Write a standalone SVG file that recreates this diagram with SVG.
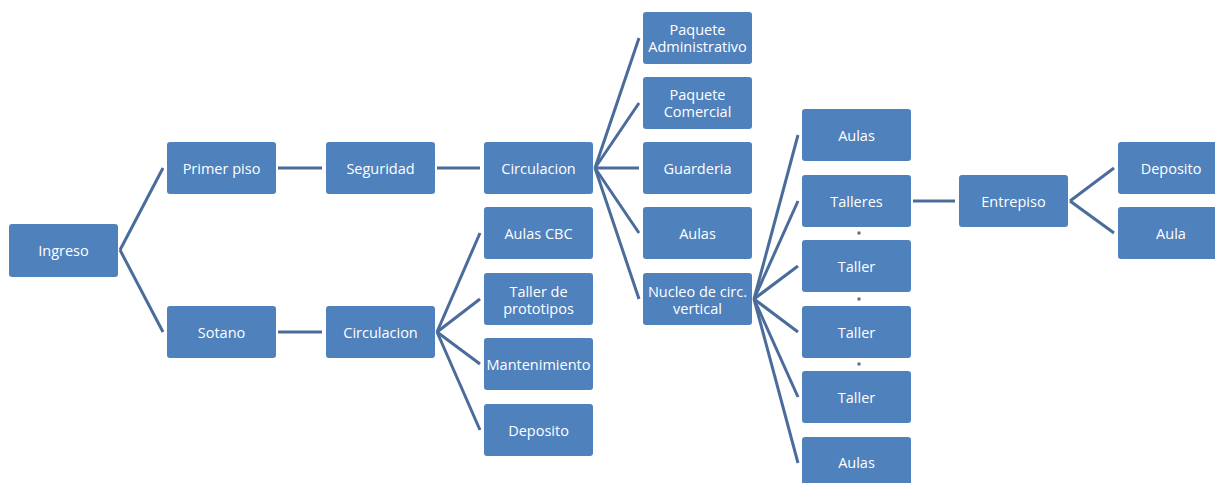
<svg xmlns="http://www.w3.org/2000/svg" width="1215" height="483" viewBox="0 0 1215 483">
<style>
.n rect{fill:#4F81BD;}
.n text{fill:#ffffff;font-family:"Open Sans","Liberation Sans",sans-serif;font-size:14.5px;text-anchor:middle;dominant-baseline:central;}
#connectors line{stroke:#4A6C9B;stroke-width:3;stroke-linecap:butt;}
.dot{fill:#5B6E88;}
</style>
<rect x="0" y="0" width="1215" height="483" fill="#ffffff"/>
<g id="connectors">
<line x1="120" y1="250" x2="163" y2="168"/>
<line x1="120" y1="250" x2="163" y2="332"/>
<line x1="278" y1="168" x2="322" y2="168"/>
<line x1="437" y1="168" x2="480" y2="168"/>
<line x1="278" y1="332" x2="322" y2="332"/>
<line x1="437" y1="332" x2="480" y2="233"/>
<line x1="437" y1="332" x2="480" y2="299"/>
<line x1="437" y1="332" x2="480" y2="364"/>
<line x1="437" y1="332" x2="480" y2="430"/>
<line x1="595" y1="168" x2="639" y2="38"/>
<line x1="595" y1="168" x2="639" y2="103"/>
<line x1="595" y1="168" x2="639" y2="168"/>
<line x1="595" y1="168" x2="639" y2="233"/>
<line x1="595" y1="168" x2="639" y2="299"/>
<line x1="754" y1="299" x2="798" y2="135"/>
<line x1="754" y1="299" x2="798" y2="201"/>
<line x1="754" y1="299" x2="798" y2="266"/>
<line x1="754" y1="299" x2="798" y2="332"/>
<line x1="754" y1="299" x2="798" y2="397"/>
<line x1="754" y1="299" x2="798" y2="463"/>
<line x1="913" y1="201" x2="955" y2="201"/>
<line x1="1070" y1="201" x2="1114" y2="168"/>
<line x1="1070" y1="201" x2="1114" y2="233"/>
</g>
<g id="ingreso" class="n"><rect x="9" y="224" width="109" height="53" rx="3"/><text x="63.5" y="250.5">Ingreso</text></g>
<g id="primer-piso" class="n"><rect x="167" y="142" width="109" height="52" rx="3"/><text x="221.5" y="168">Primer piso</text></g>
<g id="seguridad" class="n"><rect x="326" y="142" width="109" height="52" rx="3"/><text x="380.5" y="168">Seguridad</text></g>
<g id="sotano" class="n"><rect x="167" y="306" width="109" height="52" rx="3"/><text x="221.5" y="332">Sotano</text></g>
<g id="circulacion-sotano" class="n"><rect x="326" y="306" width="109" height="52" rx="3"/><text x="380.5" y="332">Circulacion</text></g>
<g id="circulacion-primer" class="n"><rect x="484" y="142" width="109" height="52" rx="3"/><text x="538.5" y="168">Circulacion</text></g>
<g id="aulas-cbc" class="n"><rect x="484" y="207" width="109" height="52" rx="3"/><text x="538.5" y="233">Aulas CBC</text></g>
<g id="taller-prototipos" class="n"><rect x="484" y="273" width="109" height="52" rx="3"/><text x="538.5" y="291">Taller de</text><text x="538.5" y="308">prototipos</text></g>
<g id="mantenimiento" class="n"><rect x="484" y="338" width="109" height="52" rx="3"/><text x="538.5" y="364">Mantenimiento</text></g>
<g id="deposito-sotano" class="n"><rect x="484" y="404" width="109" height="52" rx="3"/><text x="538.5" y="430">Deposito</text></g>
<g id="paquete-administrativo" class="n"><rect x="643" y="12" width="109" height="52" rx="3"/><text x="697.5" y="29">Paquete</text><text x="697.5" y="46">Administrativo</text></g>
<g id="paquete-comercial" class="n"><rect x="643" y="77" width="109" height="52" rx="3"/><text x="697.5" y="94">Paquete</text><text x="697.5" y="111">Comercial</text></g>
<g id="guarderia" class="n"><rect x="643" y="142" width="109" height="52" rx="3"/><text x="697.5" y="168">Guarderia</text></g>
<g id="aulas-primer" class="n"><rect x="643" y="207" width="109" height="52" rx="3"/><text x="697.5" y="233">Aulas</text></g>
<g id="nucleo" class="n"><rect x="643" y="273" width="109" height="52" rx="3"/><text x="697.5" y="291">Nucleo de circ.</text><text x="697.5" y="308">vertical</text></g>
<g id="aulas-r1" class="n"><rect x="802" y="109" width="109" height="52" rx="3"/><text x="856.5" y="135">Aulas</text></g>
<g id="talleres" class="n"><rect x="802" y="175" width="109" height="52" rx="3"/><text x="856.5" y="201">Talleres</text></g>
<g id="taller-1" class="n"><rect x="802" y="240" width="109" height="52" rx="3"/><text x="856.5" y="266">Taller</text></g>
<g id="taller-2" class="n"><rect x="802" y="306" width="109" height="52" rx="3"/><text x="856.5" y="332">Taller</text></g>
<g id="taller-3" class="n"><rect x="802" y="371" width="109" height="52" rx="3"/><text x="856.5" y="397">Taller</text></g>
<g id="aulas-r2" class="n"><rect x="802" y="437" width="109" height="52" rx="3"/><text x="856.5" y="462">Aulas</text></g>
<g id="entrepiso" class="n"><rect x="959" y="175" width="109" height="52" rx="3"/><text x="1013.5" y="201">Entrepiso</text></g>
<g id="deposito-entrepiso" class="n"><rect x="1118" y="142" width="109" height="52" rx="3"/><text x="1171" y="168">Deposito</text></g>
<g id="aula-entrepiso" class="n"><rect x="1118" y="207" width="109" height="52" rx="3"/><text x="1171" y="233">Aula</text></g>
<g id="dots">
<rect class="dot" x="857.5" y="231.5" width="3" height="3"/>
<rect class="dot" x="857.5" y="297.5" width="3" height="3"/>
<rect class="dot" x="857.5" y="362.5" width="3" height="3"/>
</g>
</svg>
